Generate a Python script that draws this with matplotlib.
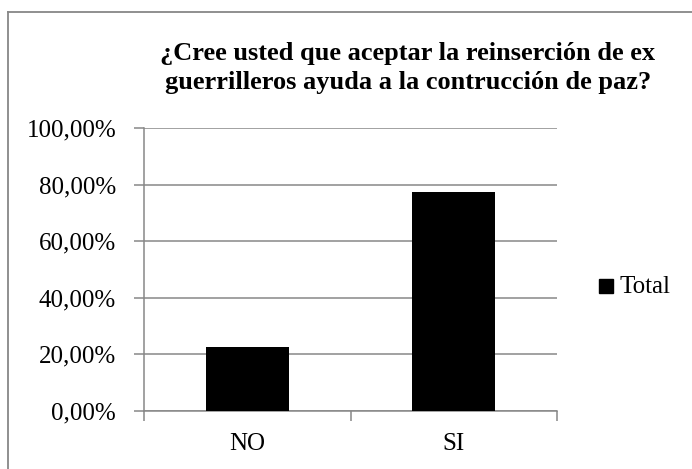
import matplotlib.pyplot as plt
import matplotlib.patches as mpatches
from matplotlib.ticker import FuncFormatter

plt.rcParams['font.family'] = ['Liberation Serif', 'DejaVu Serif']

categories = ["NO", "SI"]
values = [22.6, 77.4]
series_name = "Total"
title = "¿Cree usted que aceptar la reinserción de ex\nguerrilleros ayuda a la contrucción de paz?"

W, H = 692, 469
fig = plt.figure(figsize=(W / 100, H / 100), dpi=100)
grid_col = "#878787"

# plot area in pixel coords
left, right, top, bottom = 144, 557, 128, 411
ax = fig.add_axes([left / W, 1 - bottom / H, (right - left) / W, (bottom - top) / H])

x = list(range(len(categories)))
ax.bar(x, values, width=0.4, color="black", zorder=3, label=series_name)
ax.set_xlim(-0.5, len(categories) - 0.5)
ax.set_ylim(0, 100)
ax.set_yticks(range(0, 101, 20))
ax.yaxis.set_major_formatter(FuncFormatter(lambda v, p: f"{v:.2f}%".replace(".", ",")))
ax.grid(axis="y", color=grid_col, linewidth=1.1, zorder=0)

ax.set_xticks([i - 0.5 for i in range(len(categories) + 1)])
ax.set_xticklabels([])
ax.set_xticks(x, minor=True)
ax.set_xticklabels(categories, minor=True)
ax.tick_params(axis="x", which="major", length=7, width=1.1, color=grid_col, direction="out")
ax.tick_params(axis="x", which="minor", length=0, pad=16, labelsize=18)
ax.tick_params(axis="y", length=7, width=1.1, color=grid_col, direction="out", labelsize=18, pad=13)

for s in ["top", "right"]:
    ax.spines[s].set_visible(False)
for s in ["left", "bottom"]:
    ax.spines[s].set_color(grid_col)
    ax.spines[s].set_linewidth(1.1)

fig.text(408 / W, 1 - 68 / H, title, ha="center", va="center", fontsize=19,
         fontweight="bold", linespacing=1.35)

# legend
fig.patches.append(mpatches.Rectangle((599 / W, 1 - 293 / H), 14 / W, 14 / H,
                                      transform=fig.transFigure, color="black"))
fig.text(620 / W, 1 - 287 / H, series_name, ha="left", va="center", fontsize=18)

# chart border (top and left visible)
fig.add_artist(plt.Line2D([8 / W, 1], [1 - 12 / H, 1 - 12 / H], transform=fig.transFigure,
                          color=grid_col, linewidth=1.3))
fig.add_artist(plt.Line2D([8 / W, 8 / W], [0, 1 - 12 / H], transform=fig.transFigure,
                          color=grid_col, linewidth=1.3))

fig.savefig("out.png", dpi=100)
